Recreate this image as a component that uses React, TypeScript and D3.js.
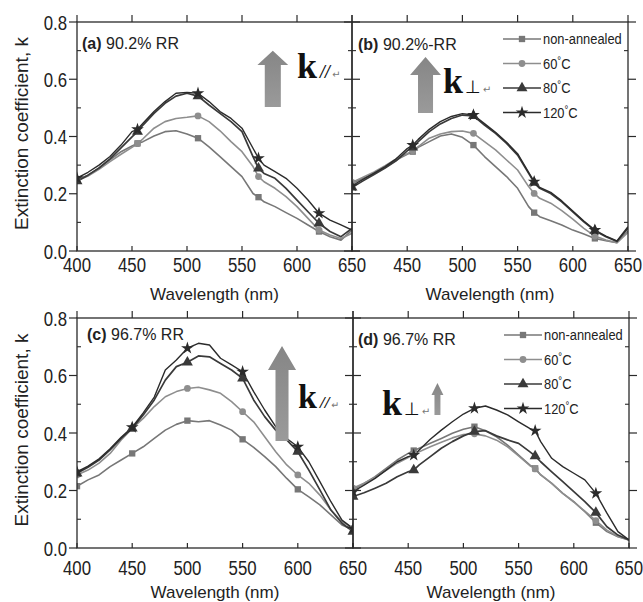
import React from "react";
import * as d3 from "d3";

// wavelength grids (nm)
const wlABD = [400, 410, 420, 430, 440, 450, 455, 460, 470, 480, 490, 500, 510, 520, 530, 540, 550, 560, 565, 570, 580, 590, 600, 610, 620, 630, 640, 650];
const wlC = [400, 410, 420, 430, 440, 450, 460, 470, 480, 490, 500, 510, 520, 530, 540, 550, 560, 570, 580, 590, 600, 610, 620, 630, 640, 650];

const seriesNames = ["non-annealed", "60", "80", "120"];

// (a) 90.2% RR, k parallel
const aNon = [0.249, 0.265, 0.289, 0.318, 0.347, 0.367, 0.376, 0.382, 0.402, 0.417, 0.42, 0.409, 0.394, 0.364, 0.33, 0.295, 0.26, 0.201, 0.188, 0.172, 0.155, 0.134, 0.114, 0.091, 0.068, 0.05, 0.038, 0.073];
const a60 = [0.245, 0.262, 0.285, 0.312, 0.338, 0.362, 0.375, 0.392, 0.429, 0.452, 0.463, 0.467, 0.472, 0.452, 0.42, 0.382, 0.347, 0.295, 0.26, 0.242, 0.219, 0.19, 0.155, 0.114, 0.073, 0.056, 0.044, 0.062];
const a80 = [0.244, 0.265, 0.29, 0.322, 0.36, 0.399, 0.417, 0.44, 0.481, 0.516, 0.541, 0.551, 0.541, 0.51, 0.481, 0.452, 0.417, 0.33, 0.289, 0.271, 0.254, 0.219, 0.178, 0.137, 0.097, 0.068, 0.05, 0.079];
const a120 = [0.255, 0.275, 0.3, 0.33, 0.37, 0.417, 0.425, 0.446, 0.487, 0.522, 0.551, 0.554, 0.551, 0.522, 0.487, 0.463, 0.429, 0.359, 0.324, 0.3, 0.277, 0.254, 0.219, 0.178, 0.132, 0.108, 0.091, 0.073];

// (b) 90.2%-RR, k perpendicular
const bNon = [0.236, 0.254, 0.271, 0.292, 0.318, 0.338, 0.347, 0.362, 0.382, 0.402, 0.409, 0.397, 0.37, 0.33, 0.295, 0.26, 0.219, 0.155, 0.134, 0.12, 0.106, 0.091, 0.073, 0.059, 0.044, 0.036, 0.029, 0.07];
const b60 = [0.24, 0.258, 0.276, 0.298, 0.322, 0.34, 0.35, 0.365, 0.394, 0.409, 0.417, 0.419, 0.411, 0.382, 0.353, 0.318, 0.283, 0.225, 0.201, 0.184, 0.167, 0.141, 0.111, 0.079, 0.052, 0.038, 0.029, 0.065];
const b80 = [0.222, 0.245, 0.267, 0.29, 0.315, 0.35, 0.362, 0.382, 0.417, 0.444, 0.463, 0.475, 0.472, 0.44, 0.411, 0.376, 0.335, 0.271, 0.239, 0.219, 0.201, 0.172, 0.137, 0.102, 0.071, 0.05, 0.033, 0.08];
const b120 = [0.228, 0.25, 0.272, 0.295, 0.322, 0.358, 0.37, 0.39, 0.425, 0.452, 0.47, 0.48, 0.475, 0.445, 0.415, 0.38, 0.34, 0.275, 0.242, 0.222, 0.205, 0.175, 0.14, 0.105, 0.073, 0.052, 0.035, 0.085];

// (c) 96.7% RR, k parallel
const cNon = [0.215, 0.237, 0.254, 0.283, 0.306, 0.329, 0.352, 0.381, 0.41, 0.43, 0.443, 0.439, 0.443, 0.428, 0.41, 0.378, 0.35, 0.318, 0.283, 0.242, 0.204, 0.178, 0.15, 0.115, 0.08, 0.063];
const c60 = [0.254, 0.271, 0.295, 0.329, 0.376, 0.416, 0.451, 0.492, 0.526, 0.544, 0.555, 0.559, 0.55, 0.538, 0.509, 0.474, 0.439, 0.387, 0.335, 0.289, 0.254, 0.225, 0.184, 0.132, 0.092, 0.068];
const c80 = [0.26, 0.281, 0.306, 0.341, 0.381, 0.416, 0.463, 0.515, 0.584, 0.631, 0.646, 0.668, 0.665, 0.642, 0.619, 0.59, 0.515, 0.457, 0.41, 0.376, 0.335, 0.271, 0.202, 0.132, 0.086, 0.057];
const c120 = [0.265, 0.285, 0.31, 0.345, 0.385, 0.42, 0.47, 0.525, 0.619, 0.654, 0.695, 0.712, 0.706, 0.66, 0.637, 0.613, 0.544, 0.48, 0.422, 0.381, 0.352, 0.3, 0.231, 0.161, 0.097, 0.068];

// (d) 96.7% RR, k perpendicular
const dNon = [0.202, 0.225, 0.248, 0.277, 0.306, 0.329, 0.339, 0.347, 0.364, 0.381, 0.399, 0.413, 0.422, 0.408, 0.387, 0.358, 0.323, 0.289, 0.277, 0.254, 0.225, 0.19, 0.161, 0.126, 0.088, 0.057, 0.039, 0.028];
const d60 = [0.208, 0.225, 0.245, 0.27, 0.295, 0.315, 0.325, 0.335, 0.352, 0.368, 0.383, 0.395, 0.397, 0.39, 0.375, 0.352, 0.32, 0.287, 0.275, 0.255, 0.225, 0.19, 0.16, 0.128, 0.095, 0.062, 0.04, 0.028];
const d80 = [0.179, 0.192, 0.208, 0.225, 0.248, 0.265, 0.271, 0.289, 0.318, 0.347, 0.37, 0.39, 0.405, 0.408, 0.39, 0.376, 0.364, 0.335, 0.32, 0.3, 0.265, 0.231, 0.196, 0.161, 0.123, 0.074, 0.045, 0.028];
const d120 = [0.196, 0.219, 0.242, 0.271, 0.3, 0.318, 0.323, 0.341, 0.378, 0.41, 0.439, 0.466, 0.486, 0.494, 0.48, 0.463, 0.439, 0.416, 0.408, 0.37, 0.312, 0.283, 0.26, 0.237, 0.19, 0.121, 0.057, 0.028];

const markersABD = [400, 455, 510, 565, 620];
const markersC = [400, 450, 500, 550, 600, 650];

const xTicks = [400, 450, 500, 550, 600, 650];
const yTicks = [0, 0.2, 0.4, 0.6, 0.8];
const yMinor = [0.1, 0.3, 0.5, 0.7];

const colors = ["#777", "#8e8e8e", "#3a3a3a", "#2b2b2b"];
const widths = [1.6, 1.6, 1.7, 1.4];
const symbols = [d3.symbolSquare, d3.symbolCircle, d3.symbolTriangle, d3.symbolStar];
const symSizes = [40, 36, 52, 50];

const sans = "'Liberation Sans', Arial, sans-serif";
const serif = "'Liberation Serif', 'Times New Roman', serif";

const panels = [
  {
    id: "a", tag: "(a)", title: " 90.2% RR", wl: wlABD, series: [aNon, a60, a80, a120], marks: markersABD,
    box: [77, 352, 22, 251], yLabels: true, xLabels: xTicks, legend: false, sub: "//",
    arrow: { wl: 578, top: 0.7, neck: 0.65, bottom: 0.503, head: 14, shaft: 7.3 },
    kpos: { wl: 600, k: 0.604, size: 36 }, labelPos: [5, 27], xlabOff: 21, titleOff: 49,
  },
  {
    id: "b", tag: "(b)", title: " 90.2%-RR", wl: wlABD, series: [bNon, b60, b80, b120], marks: markersABD,
    box: [352, 628, 22, 251], yLabels: false, xLabels: xTicks.slice(1), legend: true, sub: "\u22a5",
    arrow: { wl: 466.6, top: 0.678, neck: 0.615, bottom: 0.482, head: 14, shaft: 6.8 },
    kpos: { wl: 482.4, k: 0.552, size: 36 }, labelPos: [6, 28], xlabOff: 21, titleOff: 49,
  },
  {
    id: "c", tag: "(c)", title: " 96.7% RR", wl: wlC, series: [cNon, c60, c80, c120], marks: markersC,
    box: [77, 353, 318, 548], yLabels: true, xLabels: xTicks, legend: false, sub: "//",
    arrow: { wl: 585.7, top: 0.703, neck: 0.619, bottom: 0.372, head: 12.7, shaft: 5.9 },
    kpos: { wl: 600.2, k: 0.487, size: 34 }, labelPos: [10, 22], xlabOff: 27, titleOff: 50,
  },
  {
    id: "d", tag: "(d)", title: " 96.7% RR", wl: wlABD, series: [dNon, d60, d80, d120], marks: markersABD,
    box: [353, 629, 318, 548], yLabels: false, xLabels: xTicks.slice(1), legend: true, sub: "\u22a5",
    arrow: { wl: 476.5, top: 0.574, neck: 0.532, bottom: 0.463, head: 5.4, shaft: 2.7 },
    kpos: { wl: 426.3, k: 0.463, size: 36 }, labelPos: [5, 27], xlabOff: 27, titleOff: 50,
  },
];

// condensed text: the original uses a narrow face, so squeeze the regular one
function Narrow({ x, y, anchor = "start", size, sx, children }: any) {
  return (
    <text transform={`translate(${x},${y}) scale(${sx},1)`} textAnchor={anchor} fontFamily={sans} fontSize={size} fill="#222">
      {children}
    </text>
  );
}

function Legend({ x0, y0 }: { x0: number; y0: number }) {
  return (
    <g>
      {seriesNames.map((name, i) => {
        const y = y0 + i * 24.5;
        return (
          <g key={name}>
            <line x1={x0} x2={x0 + 38} y1={y} y2={y} stroke={colors[i]} strokeWidth={widths[i]} />
            <path d={d3.symbol(symbols[i], symSizes[i])() || ""} transform={`translate(${x0 + 19},${y})`} fill={colors[i]} />
            <Narrow x={x0 + 40} y={y + 5} size={15} sx={0.86}>
              {i === 0 ? name : (
                <>
                  {name}
                  <tspan fontSize={11} dy={-5}>{"\u00b0"}</tspan>
                  <tspan dy={5}>C</tspan>
                </>
              )}
            </Narrow>
          </g>
        );
      })}
    </g>
  );
}

function Panel({ p }: { p: (typeof panels)[number] }) {
  const [x0, x1, y0, y1] = p.box;
  const x = d3.scaleLinear().domain([400, 650]).range([x0, x1]);
  const y = d3.scaleLinear().domain([0, 0.8]).range([y1, y0]);
  const line = d3.line<number>().x((_, i) => x(p.wl[i])).y((d) => y(d));
  const clipId = `clip-${p.id}`;
  const a = p.arrow;
  const ax = x(a.wl);
  const hw = x(a.wl + a.head) - ax;
  const sw = x(a.wl + a.shaft) - ax;
  const arrowPath = `M${ax},${y(a.top)} L${ax + hw},${y(a.neck)} L${ax + sw},${y(a.neck)} L${ax + sw},${y(a.bottom)} L${ax - sw},${y(a.bottom)} L${ax - sw},${y(a.neck)} L${ax - hw},${y(a.neck)} Z`;
  const ks = p.kpos.size;
  return (
    <g>
      <defs>
        <clipPath id={clipId}>
          <rect x={x0} y={y0} width={x1 - x0} height={y1 - y0} />
        </clipPath>
        <linearGradient id={`grad-${p.id}`} x1="0" x2="0" y1="0" y2="1">
          <stop offset="0" stopColor="#868686" />
          <stop offset="1" stopColor="#9a9a9a" />
        </linearGradient>
      </defs>
      <g clipPath={`url(#${clipId})`}>
        {p.series.map((s, i) => (
          <path key={i} d={line(s) || ""} fill="none" stroke={colors[i]} strokeWidth={widths[i]} strokeLinejoin="round" />
        ))}
        {p.series.map((s, i) =>
          p.marks.map((m) => {
            const idx = p.wl.indexOf(m);
            return (
              <path key={`${i}-${m}`} d={d3.symbol(symbols[i], symSizes[i])() || ""} transform={`translate(${x(m)},${y(s[idx])})`} fill={colors[i]} />
            );
          })
        )}
      </g>
      <path d={arrowPath} fill={`url(#grad-${p.id})`} />
      <text x={x(p.kpos.wl)} y={y(p.kpos.k)} fontFamily={serif} fontWeight="bold" fontSize={ks} fill="#111">
        k
        {p.sub === "//" ? (
          <tspan fontSize={ks * 0.5} fontStyle="italic" dx={3}>//</tspan>
        ) : (
          <tspan fontSize={ks * 0.5} fontWeight="normal" dx={2} fontFamily="'DejaVu Sans', sans-serif">{p.sub}</tspan>
        )}
        <tspan fontSize={ks * 0.28} fontWeight="normal" fill="#777" fontFamily="'DejaVu Sans', sans-serif" dx={2}>{"\u21b5"}</tspan>
      </text>
      <rect x={x0} y={y0} width={x1 - x0} height={y1 - y0} fill="none" stroke="#2a2a2a" strokeWidth={1.3} />
      {yTicks.map((t) => (
        <g key={`y${t}`}>
          <line x1={x0 - 8} x2={x0} y1={y(t)} y2={y(t)} stroke="#2a2a2a" strokeWidth={1.2} />
          <line x1={x1} x2={x1 + 8} y1={y(t)} y2={y(t)} stroke="#2a2a2a" strokeWidth={1.2} />
        </g>
      ))}
      {yMinor.map((t) => (
        <g key={`ym${t}`}>
          <line x1={x0} x2={x0 + 4} y1={y(t)} y2={y(t)} stroke="#2a2a2a" strokeWidth={1.1} />
          <line x1={x1 - 4} x2={x1} y1={y(t)} y2={y(t)} stroke="#2a2a2a" strokeWidth={1.1} />
        </g>
      ))}
      {xTicks.map((t) => (
        <g key={`x${t}`}>
          <line x1={x(t)} x2={x(t)} y1={y0 - 7} y2={y0} stroke="#2a2a2a" strokeWidth={1.2} />
          <line x1={x(t)} x2={x(t)} y1={y1} y2={y1 - 5} stroke="#2a2a2a" strokeWidth={1.2} />
        </g>
      ))}
      {p.yLabels &&
        yTicks.map((t) => (
          <Narrow key={`yl${t}`} x={x0 - 10} y={y(t) + 7.5} anchor="end" size={21} sx={0.8}>
            {d3.format(".1f")(t)}
          </Narrow>
        ))}
      {p.xLabels.map((t) => (
        <Narrow key={`xl${t}`} x={x(t)} y={y1 + p.xlabOff} anchor="middle" size={21} sx={0.8}>
          {t}
        </Narrow>
      ))}
      <text x={x0 + p.labelPos[0]} y={y0 + p.labelPos[1]} fontFamily={sans} fontSize={16} fill="#222">
        <tspan fontWeight="bold">{p.tag}</tspan>
        {p.title}
      </text>
      <text x={(x0 + x1) / 2} y={y1 + p.titleOff} textAnchor="middle" fontFamily={sans} fontSize={17} fill="#222">
        Wavelength (nm)
      </text>
      {p.legend && <Legend x0={x0 + 151} y0={y0 + 17} />}
      {p.yLabels && (
        <text transform={`translate(27.5,${(y0 + y1) / 2 - 3}) rotate(-90)`} textAnchor="middle" fontFamily={sans} fontSize={19} fill="#222">
          Extinction coefficient, k
        </text>
      )}
    </g>
  );
}

export default function App() {
  return (
    <div style={{ position: "absolute", left: 0, top: 0 }}>
      <svg width={643} height={602} style={{ display: "block", background: "#fff" }}>
        {panels.map((p) => (
          <Panel key={p.id} p={p} />
        ))}
      </svg>
    </div>
  );
}
